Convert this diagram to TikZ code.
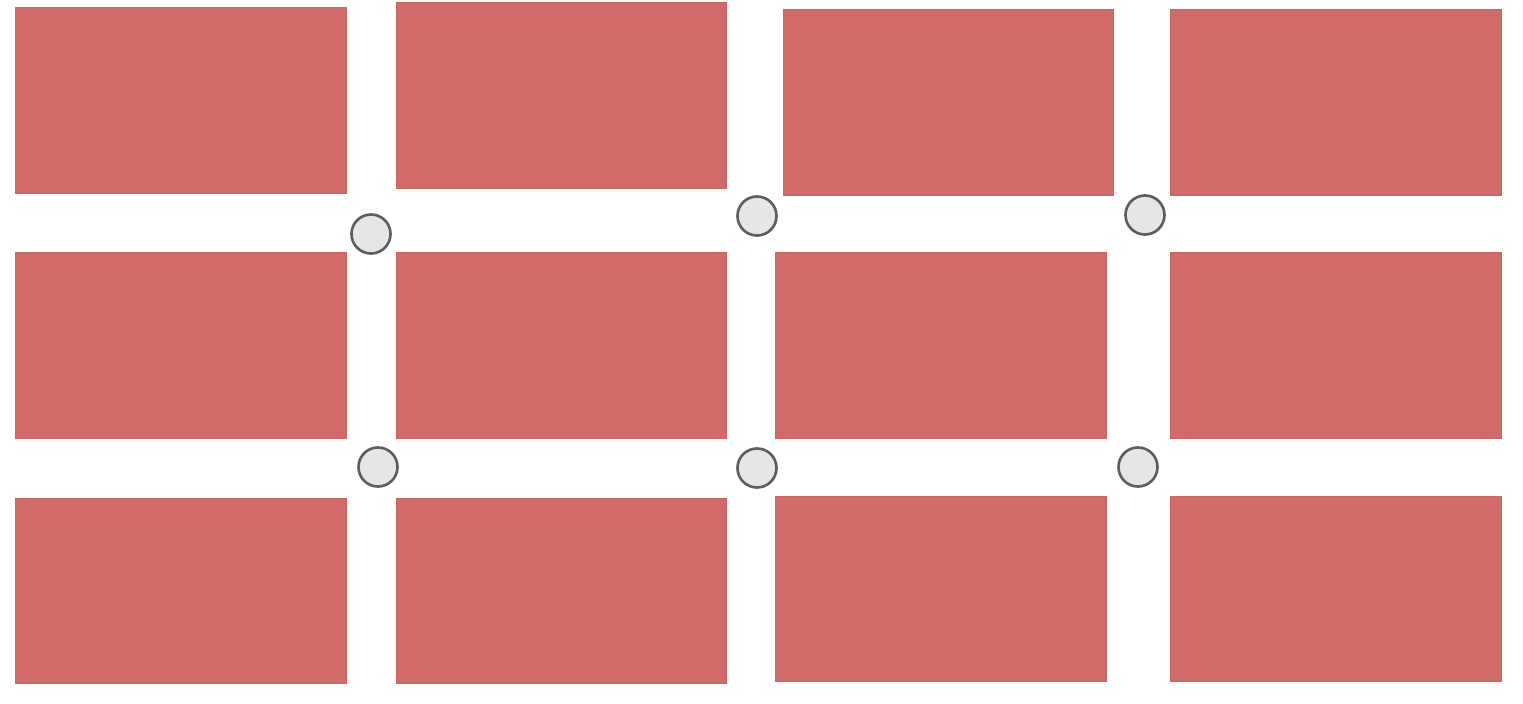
\documentclass[tikz,border=0pt]{standalone}
\definecolor{brickred}{HTML}{D16B69}
\definecolor{brickedge}{HTML}{C86462}
\definecolor{knobfill}{HTML}{E6E6E6}
\definecolor{knobedge}{HTML}{5E5E5E}
\tikzset{
  brick/.style={fill=brickred, draw=brickedge, line width=0.3pt, inner sep=0pt,
    minimum width=3.30cm, minimum height=1.85cm, rectangle},
  knob/.style={circle, fill=knobfill, draw=knobedge, line width=0.75pt, inner sep=0pt,
    minimum size=0.39cm}
}
\begin{document}
\begin{tikzpicture}[x=0.01cm,y=-0.01cm]
\useasboundingbox (0,0) rectangle (1523,704);
\fill[white] (0,0) rectangle (1523,704);
% row 1
\node[brick] (r11) at (181,100.5) {};
\node[brick] (r12) at (561.5,95.5) {};
\node[brick] (r13) at (948.5,102.5) {};
\node[brick] (r14) at (1336,102.5) {};
% row 2
\node[brick] (r21) at (181,345.5) {};
\node[brick] (r22) at (561.5,345.5) {};
\node[brick] (r23) at (941,345.5) {};
\node[brick] (r24) at (1336,345.5) {};
% row 3
\node[brick] (r31) at (181,591) {};
\node[brick] (r32) at (561.5,591) {};
\node[brick] (r33) at (941,589) {};
\node[brick] (r34) at (1336,589) {};
% knobs
\node[knob] (k1) at (371,234) {};
\node[knob] (k2) at (757,216) {};
\node[knob] (k3) at (1145,215) {};
\node[knob] (k4) at (378,467) {};
\node[knob] (k5) at (757,468) {};
\node[knob] (k6) at (1138,467) {};
\end{tikzpicture}
\end{document}
